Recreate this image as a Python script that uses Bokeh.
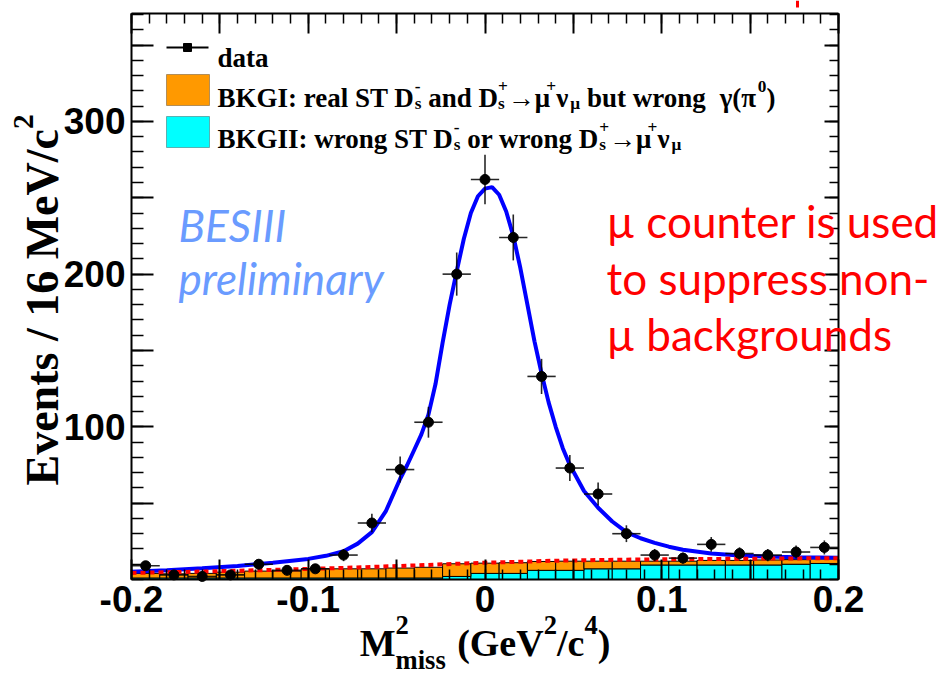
import math
from bokeh.plotting import figure
from bokeh.models import LinearAxis, FixedTicker, Label, BoxAnnotation, Range1d
from bokeh.embed import file_html
from bokeh.resources import INLINE

# ---------------- data ----------------
bin_centers = [-0.192, -0.176, -0.160, -0.144, -0.128, -0.112, -0.096, -0.080,
               -0.064, -0.048, -0.032, -0.016, 0.000, 0.016, 0.032, 0.048,
               0.064, 0.080, 0.096, 0.112, 0.128, 0.144, 0.160, 0.176, 0.192]
bin_half_width = 0.008
data_counts = [9, 3, 2, 3, 10, 6, 7, 16, 37, 72, 103, 200, 262, 224, 133, 73,
               56, 30, 16, 14, 23, 17, 16, 18, 21]
data_errors = [3.0, 1.7, 1.4, 1.7, 3.2, 2.4, 2.6, 4.0, 6.1, 8.5, 10.1, 14.1, 16.2,
               15.0, 11.5, 8.5, 7.5, 5.5, 4.0, 3.7, 4.8, 4.1, 4.0, 4.2, 4.6]
bkg2_counts = [1, 1, 1, 1, 1, 1, 1, 1, 1, 1, 1, 2, 4, 4, 6, 6, 7, 7,
               9.5, 9.5, 9.5, 9.5, 9.5, 10, 10.5]
bkg_stack_counts = [4, 3.7, 4, 4.8, 5.5, 5.5, 7, 7, 7, 7.5, 8, 10.3, 10.7, 11,
                    11.8, 12, 12, 12, 12, 12, 12.5, 12.5, 12.8, 13, 13.5]
fit_x = [-0.200, -0.180, -0.160, -0.140, -0.120, -0.100, -0.090, -0.080, -0.072,
         -0.064, -0.056, -0.048, -0.044, -0.040, -0.036, -0.032, -0.028, -0.024,
         -0.020, -0.016, -0.012, -0.008, -0.004, 0.000, 0.004, 0.008, 0.012,
         0.016, 0.020, 0.024, 0.028, 0.032, 0.036, 0.040, 0.044, 0.048, 0.056,
         0.064, 0.072, 0.080, 0.088, 0.096, 0.104, 0.112, 0.128, 0.144, 0.160,
         0.176, 0.200]
fit_y = [5.0, 6.0, 7.3, 8.8, 11.0, 13.5, 15.5, 18.5, 23.5,
         31, 45, 66, 75, 85, 95, 108, 128, 155,
         180, 202, 223, 240, 251, 256, 257, 252, 241,
         225, 204, 180, 156, 135, 116, 100, 86, 75, 58,
         47, 38, 31, 27, 24, 21.5, 19.5, 17, 15.7, 15.0,
         14.6, 14.3]
bkgpdf_x = [-0.20, -0.16, -0.12, -0.08, -0.04, 0.00, 0.04, 0.08, 0.12, 0.16, 0.20]
bkgpdf_y = [4.3, 5.2, 6.3, 7.6, 9.2, 11.0, 12.3, 13.0, 13.4, 13.7, 14.0]

x_ticks = [-0.2, -0.15, -0.1, -0.05, 0.0, 0.05, 0.1, 0.15, 0.2]
x_tick_labels = ["-0.2", "", "-0.1", "", "0", "", "0.1", "", "0.2"]
y_ticks = [50, 100, 150, 200, 250, 300, 350]
y_tick_labels = ["", "100", "", "200", "", "300", ""]

XMIN, XMAX = -0.2, 0.2
YMIN, YMAX = 0.0, 370.7

# ---------------- layout (pixels) ----------------
W, H = 943, 681
FL, FR, FT, FB = 131, 838, 13, 579   # ROOT frame inside the canvas


def X(px):
    return XMIN + (px - FL) / (FR - FL) * (XMAX - XMIN)


def Y(py):
    return YMIN + (FB - py) / (FB - FT) * (YMAX - YMIN)


# the Bokeh frame covers the whole canvas; the ROOT-style frame is made of
# four axes at fixed locations
p = figure(width=W, height=H, x_range=Range1d(X(0), X(W)), y_range=Range1d(Y(H), Y(0)),
           output_backend="svg", toolbar_location=None,
           min_border=0, min_border_left=0, min_border_right=0,
           min_border_top=0, min_border_bottom=0,
           x_axis_type=None, y_axis_type=None)
p.xgrid.visible = False
p.ygrid.visible = False
p.outline_line_color = None
p.background_fill_color = "white"
p.border_fill_color = "white"

x_minor = [round(-0.2 + 0.01 * i, 3) for i in range(41)]
y_minor = [10 * i for i in range(38)]


def make_axis(ticks, minor, labels, show, tick_in, minor_in, loc, bounds):
    ax = LinearAxis(ticker=FixedTicker(ticks=ticks, minor_ticks=minor),
                    fixed_location=loc, bounds=bounds)
    ax.major_label_overrides = {t: (l if show else "") for t, l in zip(ticks, labels)}
    ax.major_tick_in = tick_in
    ax.major_tick_out = 0
    ax.minor_tick_in = minor_in
    ax.minor_tick_out = 0
    ax.axis_line_color = "black"
    ax.axis_line_width = 2
    ax.major_tick_line_width = 2
    ax.minor_tick_line_width = 1.5
    if show:
        ax.major_label_text_font = "Liberation Sans"
        ax.major_label_text_font_style = "bold"
        ax.major_label_text_font_size = "37px"
        ax.major_label_text_color = "black"
        ax.major_label_standoff = 6
    else:
        ax.major_label_text_font_size = "1px"
        ax.major_label_standoff = 0
    return ax


p.add_layout(make_axis(x_ticks, x_minor, x_tick_labels, True, 20, 10, YMIN, (XMIN, XMAX)), "below")
p.add_layout(make_axis(x_ticks, x_minor, x_tick_labels, False, 20, 10, YMAX, (XMIN, XMAX)), "above")
p.add_layout(make_axis(y_ticks, y_minor, y_tick_labels, True, 22, 12, XMIN, (YMIN, YMAX)), "left")
p.add_layout(make_axis(y_ticks, y_minor, y_tick_labels, False, 14, 9, XMAX, (YMIN, YMAX)), "right")

# ---------------- stacked background histograms ----------------
lefts = [c - bin_half_width for c in bin_centers]
rights = [c + bin_half_width for c in bin_centers]
p.quad(left=lefts, right=rights, bottom=[0] * len(bin_centers), top=bkg2_counts,
       fill_color="#00FFFF", line_color="black", line_width=1)
p.quad(left=lefts, right=rights, bottom=bkg2_counts, top=bkg_stack_counts,
       fill_color="#FF9900", line_color="black", line_width=1)

# ---------------- fit curves ----------------
p.line(fit_x, fit_y, line_color="#0000FF", line_width=4)
p.line(bkgpdf_x, bkgpdf_y, line_color="#FF0000", line_width=4, line_dash="5 4")

# ---------------- data ----------------
p.segment(x0=lefts, x1=rights, y0=data_counts, y1=data_counts,
          line_color="black", line_width=1.6, line_alpha=0.85)
p.segment(x0=bin_centers, x1=bin_centers,
          y0=[c - e for c, e in zip(data_counts, data_errors)],
          y1=[c + e for c, e in zip(data_counts, data_errors)],
          line_color="black", line_width=1.6, line_alpha=0.85)
p.scatter(bin_centers, data_counts, marker="circle", size=10, color="black")

# ---------------- text helpers ----------------
EMW = {' ': .25, '!': .333, '(': .333, ')': .333, '+': .57, '-': .333, '/': .278,
       ':': .333, '0': .5, '1': .5, '2': .5, '3': .5, '4': .5, '5': .5, '6': .5,
       '7': .5, '8': .5, '9': .5, 'A': .722, 'B': .667, 'C': .722, 'D': .722,
       'E': .667, 'G': .778, 'I': .389, 'K': .778, 'M': .944, 'S': .556, 'T': .667,
       'V': .722, 'a': .5, 'b': .556, 'c': .444, 'd': .556, 'e': .444, 'g': .5,
       'i': .278, 'l': .278, 'm': .833, 'n': .556, 'o': .5, 'r': .444, 's': .389,
       't': .333, 'u': .556, 'v': .5, 'w': .722, 'μ': .576, 'ν': .52, 'γ': .52,
       'π': .56, '→': .85}


def text_width(s, size):
    return sum(EMW.get(ch, 0.55) for ch in s) * size


def put(px, py, s, size, font="Liberation Serif", style="bold", color="black", angle=0.0):
    p.add_layout(Label(x=X(px), y=Y(py), text=s, text_font=font,
                       text_font_size=f"{size:.1f}px", text_font_style=style,
                       text_color=color, angle=angle, text_align="left",
                       text_baseline="alphabetic"))


def parts_width(parts, F, small):
    total = 0.0
    for part in parts:
        kind = part[0]
        if kind == "sp":
            total += part[1] * F
        elif kind == "n":
            total += text_width(part[1], F)
        elif kind in ("sub", "sup"):
            total += text_width(part[1], small * F)
        else:
            total += max(text_width(part[1], small * F), text_width(part[2], small * F))
    return total


def flow(x0, y0, parts, F, vertical=False, sub_dy=0.22, sup_dy=0.42, small=0.64):
    adv = 0.0
    for part in parts:
        kind = part[0]
        if kind == "sp":
            adv += part[1] * F
            continue
        if kind == "n":
            items = [(part[1], F, 0.0)]
        elif kind == "sub":
            items = [(part[1], small * F, -sub_dy * F)]
        elif kind == "sup":
            items = [(part[1], small * F, sup_dy * F)]
        else:  # "ss": stacked sub + sup
            items = [(part[1], small * F, -sub_dy * F), (part[2], small * F, sup_dy * F)]
        w = 0.0
        for s, size, off in items:
            if vertical:
                put(x0 - off, y0 - adv, s, size, angle=math.pi / 2)
            else:
                put(x0 + adv, y0 - off, s, size)
            w = max(w, text_width(s, size))
        adv += w


# axis titles
flow(42, 485, [("n", "Events / 16 MeV/c"), ("sup", "2")], 46, vertical=True)
xt_parts = [("n", "M"), ("ss", "miss", "2"), ("sp", 0.3), ("n", "(GeV"),
            ("sup", "2"), ("n", "/c"), ("sup", "4"), ("n", ")")]
xt_F, xt_small = 38, 0.7
xt_start = (FL + FR) / 2 - parts_width(xt_parts, xt_F, xt_small) / 2
flow(xt_start, 642, xt_parts, xt_F, sub_dy=0.45, sup_dy=0.46, small=xt_small)

# ---------------- legend ----------------
p.line([X(166), X(208)], [Y(47), Y(47)], line_color="black", line_width=2)
p.scatter([X(187)], [Y(47)], marker="square", size=8, color="black")
put(217, 57, "data", 27)
p.add_layout(BoxAnnotation(left=X(166), right=X(209), top=Y(74), bottom=Y(105),
                           fill_color="#FF9900", fill_alpha=1.0,
                           line_color="black", line_width=1))
p.add_layout(BoxAnnotation(left=X(166), right=X(209), top=Y(116), bottom=Y(147),
                           fill_color="#00FFFF", fill_alpha=1.0,
                           line_color="black", line_width=1))
flow(217, 97, [("n", "BKGI: real ST D"), ("ss", "s", "-"), ("sp", 0.25), ("n", "and D"),
               ("ss", "s", "+"), ("n", "→μ"), ("sup", "+"), ("n", "ν"), ("sub", "μ"),
               ("sp", 0.25), ("n", "but wrong"), ("sp", 0.5), ("n", "γ(π"),
               ("sup", "0"), ("n", ")")], 27)
flow(217, 138, [("n", "BKGII: wrong ST D"), ("ss", "s", "-"), ("sp", 0.25),
                ("n", "or wrong D"), ("ss", "s", "+"), ("n", "→μ"), ("sup", "+"),
                ("n", "ν"), ("sub", "μ")], 27)

# ---------------- annotations ----------------
put(178, 224, "BESIII", 44, font="Lato", style="italic", color="#6A9BFF")
put(178, 277, "preliminary", 44, font="Lato", style="italic", color="#6A9BFF")
put(606, 220, "\u00b5 counter is used", 44, font="Lato", style="normal", color="#FF0000")
put(606, 277, "to suppress non-", 44, font="Lato", style="normal", color="#FF0000")
put(606, 333, "\u00b5 backgrounds", 44, font="Lato", style="normal", color="#FF0000")
# tiny red stroke at the top edge (remnant of text cut off above the chart)
p.segment(x0=[X(797)], x1=[X(797)], y0=[Y(0)], y1=[Y(7)], line_color="#FF0000", line_width=3)

open("out.html", "w").write(file_html(p, INLINE))
